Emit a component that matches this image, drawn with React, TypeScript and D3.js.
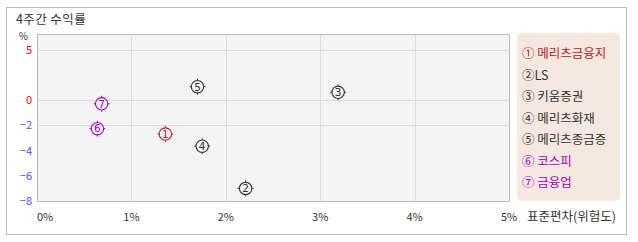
import React from "react";
import * as d3 from "d3";

const names = ["메리츠금융지", "LS", "키움증권", "메리츠화재", "메리츠종금증", "코스피", "금융업"];
const marks = ["①", "②", "③", "④", "⑤", "⑥", "⑦"];
const stdDev = [1.36, 2.21, 3.19, 1.75, 1.70, 0.64, 0.685];
const returns = [-2.7, -7.0, 0.77, -3.66, 1.33, -2.27, -0.3];
const colors = ["#b22222", "#333333", "#333333", "#333333", "#333333", "#a000c0", "#a000c0"];
const xTicks = [0, 1, 2, 3, 4, 5];
const yTicks = [5, 0, -2, -4, -6, -8];
const yGrid = [5, 0, -2];

const W = 638, H = 242;
const FONT = "'Noto Sans CJK KR', 'Noto Sans', sans-serif";

export default function App() {
  const x = d3.scaleLinear().domain([0, 5]).range([37, 509]);
  const y = d3.scaleLinear().domain([-8, 0, 6.6]).range([201, 100, 34]);
  const top = 34, bottom = 201, left = 37, right = 509;
  return (
    <svg width={W} height={H} style={{ position: "absolute", left: 0, top: 0 }} fontFamily={FONT}>
      <rect x={6.5} y={7.5} width={620} height={227} fill="#fff" stroke="#bbb" />
      <text x={16} y={24} fontSize={12.5} fill="#333" letterSpacing={0.4}>4주간 수익률</text>
      <rect x={left} y={top} width={right - left} height={bottom - top} fill="#f4f4f4" />
      {xTicks.slice(1, -1).map((t) => (
        <line key={"gx" + t} x1={Math.round(x(t)) + 0.5} x2={Math.round(x(t)) + 0.5} y1={top} y2={bottom} stroke="#dcdcdc" />
      ))}
      {yGrid.map((t) => (
        <line key={"gy" + t} x1={left} x2={right} y1={Math.round(y(t)) + 0.5} y2={Math.round(y(t)) + 0.5} stroke="#dcdcdc" />
      ))}
      <path d={`M${left + 0.5},${bottom + 0.5}V${top + 0.5}H${right + 0.5}V${bottom + 0.5}H${left + 0.5}`} fill="none" stroke="#bbb" />
      <text x={28} y={40} fontSize={10} fill="#333" textAnchor="end">%</text>
      {yTicks.map((t) => (
        <text key={"yl" + t} x={32} y={y(t) + 4} fontSize={11} textAnchor="end" fill={t >= 0 ? "#ff0000" : "#4a4aff"}>
          {t < 0 ? "−" + Math.abs(t) : t}
        </text>
      ))}
      {xTicks.map((t, i) => (
        <text key={"xl" + t} x={i === 0 ? left : x(t)} y={221} fontSize={11} textAnchor={i === 0 ? "start" : "middle"} fill="#333">
          {t}%
        </text>
      ))}
      <text x={527} y={221} fontSize={12.5} fill="#333">표준편차(위험도)</text>
      {names.map((n, i) => {
        const cx = x(stdDev[i]);
        const cy = y(returns[i]);
        const c = colors[i];
        return (
          <g key={"p" + i}>
            <circle cx={cx} cy={cy} r={6.2} fill="none" stroke={c} strokeWidth={1.1} />
            <line x1={cx} x2={cx} y1={cy - 8} y2={cy - 6.2} stroke={c} />
            <line x1={cx} x2={cx} y1={cy + 6.2} y2={cy + 8} stroke={c} />
            <line x1={cx - 8} x2={cx - 6.2} y1={cy} y2={cy} stroke={c} />
            <line x1={cx + 6.2} x2={cx + 8} y1={cy} y2={cy} stroke={c} />
            <text x={cx} y={cy + 3.8} fontSize={10.5} textAnchor="middle" fill={c} fontFamily="'DejaVu Sans', sans-serif">
              {i + 1}
            </text>
          </g>
        );
      })}
      <rect x={517} y={33} width={103} height={168} rx={5} fill="#f5e8e1" />
      {names.map((n, i) => (
        <text key={"lg" + i} x={522} y={58 + i * 21.5} fontSize={12.5} fill={colors[i]}>
          {marks[i]}{i === 1 ? "" : " "}{n}
        </text>
      ))}
    </svg>
  );
}
